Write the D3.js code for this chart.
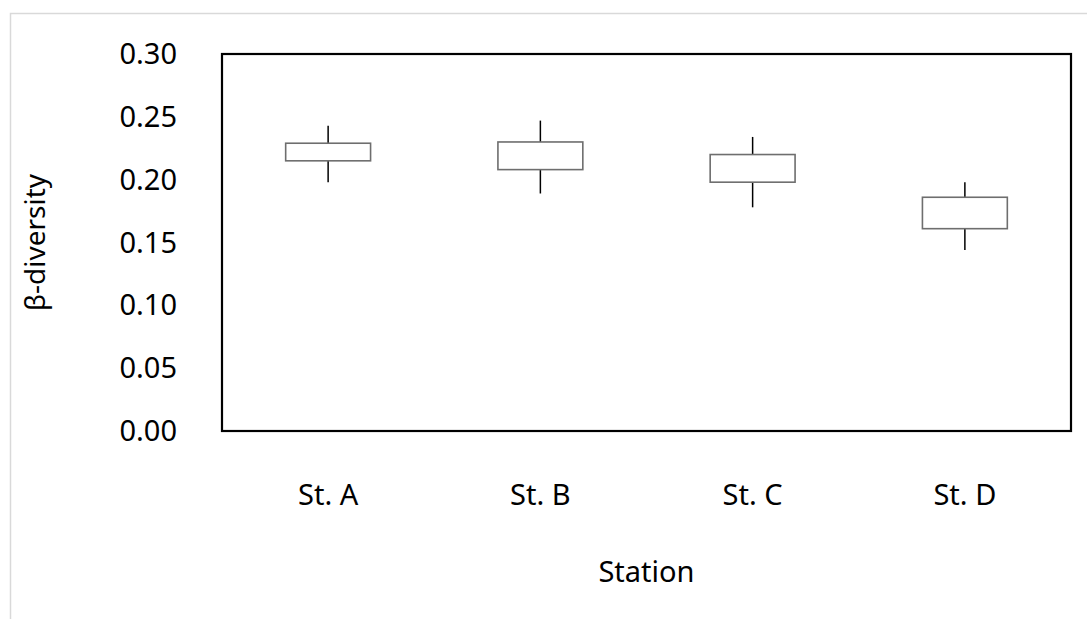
<!DOCTYPE html>
<html>
<head>
<meta charset="utf-8">
<script src="https://cdn.jsdelivr.net/npm/d3@7/dist/d3.min.js"></script>
<style>
  body { margin: 0; background: #fff; }
  text { font-family: "Noto Sans", "Open Sans", sans-serif; fill: #000; }
</style>
</head>
<body>
<div id="chart"></div>
<script>
var w = 1087;
var h = 619;

// data
var stations = ["St. A", "St. B", "St. C", "St. D"];
var high = [0.243, 0.247, 0.234, 0.198];
var boxTop = [0.229, 0.230, 0.220, 0.186];
var boxBottom = [0.215, 0.208, 0.198, 0.161];
var low = [0.198, 0.189, 0.178, 0.144];
var yTicks = [0, 0.05, 0.10, 0.15, 0.20, 0.25, 0.30];

var margin = {left: 222, top: 54, right: 1071, bottom: 431};

var svg = d3.select("#chart").append("svg")
  .attr("width", w)
  .attr("height", h);

// outer chart frame (cropped at right/bottom)
svg.append("rect")
  .attr("x", 10.5).attr("y", 13.5)
  .attr("width", w + 50).attr("height", h + 50)
  .style("fill", "none")
  .style("stroke", "#d9d9d9")
  .style("stroke-width", 1.5);

var x = d3.scaleBand()
  .domain(stations)
  .range([margin.left, margin.right])
  .paddingInner(0.6)
  .paddingOuter(0.3);

var y = d3.scaleLinear()
  .domain([0, 0.30])
  .range([margin.bottom, margin.top]);

var rows = stations.map(function(s, i) {
  return {name: s, high: high[i], top: boxTop[i], bottom: boxBottom[i], low: low[i]};
});

// y tick labels
svg.append("g").selectAll("text")
    .data(yTicks)
  .enter().append("text")
    .attr("x", 177)
    .attr("y", function(d) { return y(d); })
    .attr("dy", "0.35em")
    .attr("text-anchor", "end")
    .style("font-size", "29px")
    .text(function(d) { return d3.format(".2f")(d); });

// category labels
svg.append("g").selectAll("text")
    .data(stations)
  .enter().append("text")
    .attr("x", function(d) { return x(d) + x.bandwidth() / 2; })
    .attr("y", 495)
    .attr("dy", "0.35em")
    .attr("text-anchor", "middle")
    .style("font-size", "29px")
    .text(function(d) { return d; });

// whiskers
var g = svg.append("g");
g.selectAll(".whisker")
    .data(rows)
  .enter().append("line")
    .attr("class", "whisker")
    .attr("x1", function(d) { return x(d.name) + x.bandwidth() / 2; })
    .attr("x2", function(d) { return x(d.name) + x.bandwidth() / 2; })
    .attr("y1", function(d) { return y(d.high); })
    .attr("y2", function(d) { return y(d.low); })
    .style("stroke", "#000")
    .style("stroke-width", 1.5);

// boxes
g.selectAll(".box")
    .data(rows)
  .enter().append("rect")
    .attr("class", "box")
    .attr("x", function(d) { return x(d.name); })
    .attr("width", x.bandwidth())
    .attr("y", function(d) { return y(d.top); })
    .attr("height", function(d) { return y(d.bottom) - y(d.top); })
    .style("fill", "#fff")
    .style("stroke", "#6e6e6e")
    .style("stroke-width", 1.6);

// plot frame
svg.append("rect")
  .attr("x", margin.left)
  .attr("y", margin.top)
  .attr("width", margin.right - margin.left)
  .attr("height", margin.bottom - margin.top)
  .style("fill", "none")
  .style("stroke", "#000")
  .style("stroke-width", 2.2);

// axis titles
svg.append("text")
  .attr("x", (margin.left + margin.right) / 2)
  .attr("y", 572)
  .attr("dy", "0.35em")
  .attr("text-anchor", "middle")
  .style("font-size", "29px")
  .text("Station");

svg.append("text")
  .attr("transform", "translate(35," + (margin.top + margin.bottom) / 2 + ") rotate(-90)")
  .attr("dy", "0.35em")
  .attr("text-anchor", "middle")
  .style("font-size", "28px")
  .text("β-diversity");
</script>
</body>
</html>
